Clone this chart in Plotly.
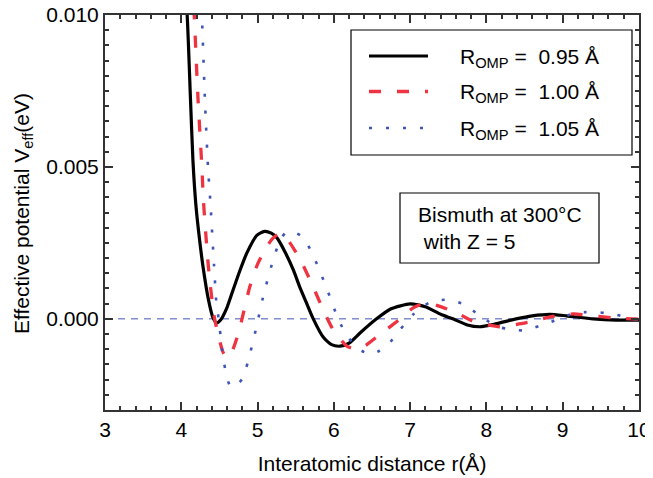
import plotly.graph_objects as go

# Data
r_095 = [3.98, 4.077, 4.121, 4.153, 4.193, 4.24, 4.284, 4.356, 4.415, 4.464, 4.52, 4.60, 4.68, 4.77, 4.86,
         4.99, 5.09, 5.18, 5.25, 5.36, 5.47, 5.56, 5.64, 5.73, 5.86, 5.97, 6.08, 6.20, 6.35, 6.56, 6.75,
         7.00, 7.20, 7.40, 7.56, 7.75, 7.91, 8.10, 8.39, 8.60, 8.83, 9.05, 9.40, 9.70, 10.0]
v_095 = [0.0135, 0.0100, 0.0072, 0.0052, 0.0037, 0.0026, 0.00173, 0.00063, 0.00004, -0.00013, -0.00002,
         0.00038, 0.00096, 0.00160, 0.00217, 0.00275, 0.00288, 0.00282, 0.00268, 0.00220, 0.00160,
         0.00100, 0.00053, 0.0, -0.00060, -0.00085, -0.00090, -0.00080, -0.00045, 0.0, 0.00033,
         0.00049, 0.00040, 0.00015, 0.0, -0.00020, -0.00026, -0.00018, 0.0, 0.00010, 0.00015,
         0.00010, 0.0, -0.00004, -0.00004]

r_100 = [4.12, 4.17, 4.22, 4.27, 4.29, 4.355, 4.43, 4.49, 4.54, 4.59, 4.66, 4.75, 4.90, 5.00, 5.12, 5.20,
         5.29, 5.38, 5.56, 5.72, 5.86, 6.00, 6.17, 6.28, 6.40, 6.60, 6.87, 7.04, 7.21, 7.40, 7.61, 7.80,
         8.00, 8.18, 8.40, 8.61, 8.85, 9.05, 9.15, 9.40, 9.66, 10.0]
v_100 = [0.0130, 0.0100, 0.0072, 0.0050, 0.0039, 0.00173, 0.00009, -0.00057, -0.00105, -0.00128,
         -0.00110, -0.00046, 0.00107, 0.00180, 0.00238, 0.00265, 0.00280, 0.00265, 0.00195, 0.00110,
         0.00030, -0.00040, -0.00090, -0.00099, -0.00090, -0.00052, 0.0, 0.00036, 0.00053, 0.00040,
         0.00020, -0.00005, -0.00019, -0.00026, -0.00018, -0.00008, 0.00007, 0.00015, 0.00016,
         0.00010, 0.00003, -0.00001]

r_105 = [4.22, 4.27, 4.31, 4.35, 4.38, 4.43, 4.46, 4.49, 4.54, 4.60, 4.65, 4.72, 4.80, 4.87, 4.98, 5.08,
         5.20, 5.30, 5.39, 5.48, 5.59, 5.72, 5.81, 5.90, 5.98, 6.07, 6.19, 6.33, 6.48, 6.60, 6.70, 6.87,
         7.05, 7.27, 7.49, 7.71, 7.94, 8.15, 8.27, 8.49, 8.71, 8.94, 9.16, 9.30, 9.49, 9.71, 9.95, 10.0]
v_105 = [0.0130, 0.0100, 0.0072, 0.0050, 0.0039, 0.00173, 0.00053, 0.0, -0.00112, -0.00195, -0.00225,
         -0.00220, -0.00197, -0.00145, -0.00032, 0.00080, 0.00190, 0.00262, 0.00288, 0.00285, 0.00270,
         0.00214, 0.00160, 0.00105, 0.00050, -0.00008, -0.00062, -0.00100, -0.00117, -0.00105,
         -0.00088, -0.00035, 0.00017, 0.00056, 0.00063, 0.00047, 0.00005, -0.00026, -0.00033,
         -0.00038, -0.00022, -0.00002, 0.00020, 0.00022, 0.00021, 0.00013, -0.00001, -0.00002]

labels = ["R<sub>OMP</sub> =  0.95 Å", "R<sub>OMP</sub> =  1.00 Å", "R<sub>OMP</sub> =  1.05 Å"]
note_text = "Bismuth at 300°C<br> with Z = 5"
x_title = "Interatomic distance r(Å)"
y_title = "Effective potential V<sub>eff</sub>(eV)"

FONT = "Liberation Sans, Arial, sans-serif"
FS = 21
OFF = 8  # page body margin
W, H = 653 - OFF, 478 - OFF
# plot area in page pixels: x 105..639, y 15..410
ML, MT = 105 - OFF, 15 - OFF
MR, MB = W - (639 - OFF), H - (410 - OFF)
PW, PH = W - ML - MR, H - MT - MB


def px(xp):
    return (xp - OFF - ML) / PW


def py(yp):
    return (H - MB - (yp - OFF)) / PH


styles = [
    dict(color="black", width=3.2, dash="solid"),
    dict(color="#ef3340", width=3.3, dash="12px,16px"),
    dict(color="#3f55b5", width=2.6, dash="3px,14px"),
]
series = [(r_095, v_095), (r_100, v_100), (r_105, v_105)]

fig = go.Figure()
for (xs, ys), st, name in zip(series, styles, labels):
    fig.add_trace(go.Scatter(x=xs, y=ys, mode="lines", name=name, showlegend=False,
                             line=dict(shape="spline", smoothing=0.6, **st)))

# zero reference line
fig.add_shape(type="line", xref="paper", x0=0, x1=1, yref="y", y0=0, y1=0,
              line=dict(color="#3f55b5", width=1, dash="7px,6px"), layer="below")

# legend box (drawn manually to match the original layout)
fig.add_shape(type="rect", xref="paper", yref="paper", x0=px(351), x1=px(632), y0=py(30), y1=py(155),
              line=dict(color="black", width=1.2), fillcolor="white", layer="above")
rows = [56, 91.5, 128]
for rowy, st, name in zip(rows, styles, labels):
    fig.add_shape(type="line", xref="paper", yref="paper", x0=px(369), x1=px(428), y0=py(rowy), y1=py(rowy),
                  line=st, layer="above")
    fig.add_annotation(xref="paper", yref="paper", x=px(458), y=py(rowy + 2), xanchor="left", yanchor="middle",
                       text=name, showarrow=False, font=dict(size=FS, color="black", family=FONT))

# note box
fig.add_shape(type="rect", xref="paper", yref="paper", x0=px(400), x1=px(599), y0=py(193), y1=py(263),
              line=dict(color="black", width=1.2), fillcolor="white", layer="above")
fig.add_annotation(xref="paper", yref="paper", x=px(416), y=py(228), xanchor="left", yanchor="middle",
                   text=note_text, showarrow=False, align="left",
                   font=dict(size=FS, color="black", family=FONT))

# y axis title placed precisely
fig.add_annotation(xref="paper", yref="paper", x=px(23), y=py(214), xanchor="center", yanchor="middle",
                   text=y_title, textangle=-90, showarrow=False,
                   font=dict(size=FS, color="black", family=FONT))

axis_common = dict(showline=True, linecolor="#333333", linewidth=2, mirror="ticks",
                   ticks="inside", ticklen=8, tickwidth=2, tickcolor="#333333",
                   showgrid=False, zeroline=False, automargin=False,
                   ticklabeloverflow="allow",
                   tickfont=dict(size=FS, color="black", family=FONT))

fig.update_xaxes(range=[3, 10], dtick=1, tick0=3,
                 title=dict(text=x_title, font=dict(size=FS, color="black", family=FONT), standoff=16),
                 minor=dict(dtick=0.2, ticks="inside", ticklen=4, tickwidth=1.5, tickcolor="#333333"),
                 **axis_common)
fig.update_yaxes(range=[-0.003, 0.010], dtick=0.005, tick0=0, tickformat=".3f",
                 minor=dict(dtick=0.0005, ticks="inside", ticklen=4, tickwidth=1.5, tickcolor="#333333"),
                 **axis_common)

fig.update_layout(
    width=W, height=H,
    margin=dict(l=ML, r=MR, t=MT, b=MB),
    paper_bgcolor="white", plot_bgcolor="white",
    font=dict(family=FONT, size=FS, color="black"),
    showlegend=False,
)

fig.write_html("out.html")
